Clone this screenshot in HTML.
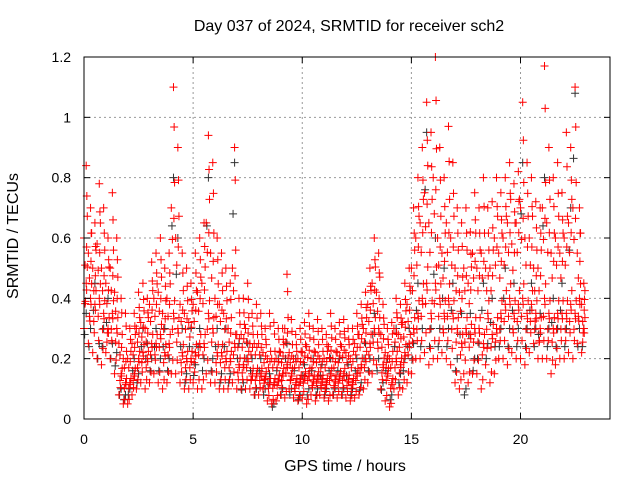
<!DOCTYPE html>
<html><head><meta charset="utf-8"><style>
body{margin:0;background:#fff;}
svg{display:block;font-family:"Liberation Sans",sans-serif;}
</style></head><body>
<svg id="chart" width="640" height="480" viewBox="0 0 640 480">
<rect width="640" height="480" fill="#fff"/>
<g id="grid"></g>
<g id="blackPts"></g>
<g id="redPts"></g>
<rect x="84" y="57" width="526" height="362" fill="none" stroke="#000" stroke-width="1"/>
<g id="ticks"></g>
<text x="349" y="31" font-size="16" text-anchor="middle">Day 037 of 2024, SRMTID for receiver sch2</text>
<text x="345" y="471" font-size="16" text-anchor="middle">GPS time / hours</text>
<text transform="translate(18,236) rotate(-90)" font-size="16" text-anchor="middle">SRMTID / TECUs</text>
</svg>
<script>
const xTicks=[0,5,10,15,20];
const yTicks=[0,0.2,0.4,0.6,0.8,1,1.2];
const yTickLabels=["0","0.2","0.4","0.6","0.8","1","1.2"];
const timeStep=0.2;
const redLow=[0.30,0.25,0.22,0.2,0.18,0.22,0.2,0.15,0.08,0.05,0.05,0.08,0.1,0.12,0.1,0.12,0.15,0.12,0.1,0.12,0.15,0.15,0.12,0.1,0.1,0.12,0.1,0.1,0.15,0.12,0.12,0.1,0.1,0.1,0.12,0.1,0.1,0.1,0.1,0.08,0.08,0.1,0.06,0.05,0.06,0.08,0.07,0.1,0.07,0.06,0.07,0.05,0.08,0.06,0.08,0.07,0.06,0.08,0.07,0.08,0.07,0.06,0.07,0.08,0.1,0.12,0.15,0.18,0.1,0.06,0.04,0.1,0.08,0.1,0.12,0.15,0.2,0.2,0.22,0.18,0.2,0.2,0.22,0.2,0.18,0.12,0.1,0.15,0.12,0.15,0.15,0.1,0.18,0.12,0.15,0.2,0.2,0.18,0.22,0.2,0.2,0.18,0.22,0.25,0.2,0.2,0.2,0.15,0.18,0.2,0.2,0.22,0.2,0.25,0.22];
const redHigh=[0.84,0.7,0.65,0.78,0.7,0.6,0.75,0.6,0.4,0.35,0.3,0.35,0.42,0.45,0.4,0.52,0.55,0.6,0.5,0.55,1.1,0.9,0.55,0.5,0.45,0.55,0.6,0.65,0.94,0.85,0.6,0.55,0.5,0.45,0.9,0.4,0.4,0.45,0.35,0.38,0.35,0.3,0.35,0.32,0.3,0.3,0.48,0.33,0.28,0.3,0.32,0.35,0.3,0.33,0.3,0.28,0.35,0.3,0.32,0.33,0.3,0.3,0.35,0.38,0.42,0.5,0.6,0.55,0.38,0.3,0.32,0.4,0.38,0.45,0.5,0.7,0.8,0.9,1.05,0.95,1.2,0.9,0.8,0.97,0.85,0.7,0.65,0.7,0.62,0.75,0.7,0.8,0.7,0.72,0.8,0.75,0.8,0.85,0.78,0.82,1.05,0.85,0.8,0.72,0.7,1.17,0.9,0.8,0.85,0.75,0.95,0.9,1.1,0.7,0.45];
const redMid1=[0.45,0.4,0.38,0.4,0.35,0.3,0.35,0.3,0.15,0.12,0.12,0.15,0.2,0.22,0.2,0.25,0.25,0.28,0.22,0.25,0.35,0.3,0.22,0.2,0.2,0.22,0.25,0.25,0.35,0.3,0.22,0.22,0.2,0.2,0.25,0.18,0.18,0.2,0.15,0.15,0.15,0.14,0.12,0.12,0.13,0.15,0.18,0.15,0.12,0.13,0.14,0.15,0.13,0.14,0.13,0.12,0.15,0.13,0.14,0.15,0.13,0.12,0.15,0.18,0.2,0.25,0.3,0.3,0.18,0.15,0.12,0.2,0.18,0.22,0.25,0.3,0.35,0.4,0.45,0.35,0.45,0.4,0.35,0.4,0.35,0.3,0.25,0.3,0.28,0.3,0.3,0.25,0.35,0.28,0.3,0.35,0.38,0.4,0.35,0.38,0.4,0.35,0.38,0.35,0.3,0.4,0.35,0.3,0.35,0.35,0.35,0.38,0.35,0.4,0.3];
const redMid2=[0.6,0.55,0.5,0.58,0.5,0.45,0.5,0.42,0.25,0.2,0.2,0.25,0.3,0.32,0.3,0.38,0.4,0.42,0.35,0.4,0.7,0.6,0.38,0.35,0.32,0.38,0.42,0.45,0.65,0.55,0.4,0.38,0.35,0.3,0.5,0.28,0.28,0.3,0.25,0.25,0.25,0.22,0.2,0.2,0.2,0.22,0.3,0.22,0.2,0.2,0.22,0.24,0.2,0.22,0.2,0.2,0.24,0.2,0.22,0.24,0.22,0.2,0.25,0.28,0.3,0.38,0.45,0.42,0.28,0.22,0.2,0.3,0.28,0.32,0.38,0.5,0.6,0.65,0.75,0.65,0.8,0.6,0.55,0.65,0.6,0.5,0.42,0.5,0.45,0.55,0.5,0.55,0.5,0.5,0.6,0.55,0.6,0.65,0.58,0.65,0.7,0.6,0.6,0.5,0.5,0.7,0.65,0.55,0.6,0.55,0.6,0.65,0.7,0.55,0.38];
const blackVals=[0.35,0.3,0.45,0.25,0.3,0.4,0.25,0.22,0.1,0.08,0.1,0.2,0.15,0.3,0.25,0.2,0.3,0.2,0.3,0.2,0.8,0.6,0.3,0.15,0.3,0.18,0.3,0.2,0.8,0.2,0.3,0.15,0.3,0.15,0.85,0.25,0.12,0.25,0.2,0.1,0.2,0.1,0.15,0.05,0.2,0.1,0.25,0.1,0.2,0.08,0.18,0.1,0.2,0.1,0.18,0.1,0.2,0.1,0.2,0.1,0.18,0.1,0.2,0.12,0.25,0.2,0.35,0.2,0.12,0.2,0.08,0.3,0.15,0.2,0.3,0.25,0.45,0.3,0.95,0.3,0.6,0.3,0.5,0.3,0.45,0.2,0.35,0.1,0.35,0.2,0.25,0.45,0.25,0.4,0.3,0.3,0.5,0.3,0.45,0.3,0.85,0.3,0.45,0.3,0.35,0.8,0.3,0.4,0.3,0.45,0.3,0.7,1.08,0.3,0.3];

const NS="http://www.w3.org/2000/svg";
const X0=84,X1=610,Y0=419,Y1=57,XMAX=24.1,YMAX=1.2;
function xs(t){return X0+t/XMAX*(X1-X0);}
function ys(v){return Y0-v/YMAX*(Y0-Y1);}
function mk(tag,attrs,parent){const e=document.createElementNS(NS,tag);for(const k in attrs)e.setAttribute(k,attrs[k]);parent.appendChild(e);return e;}
const grid=document.getElementById('grid'),ticks=document.getElementById('ticks');
xTicks.forEach(t=>{
  const x=xs(t);
  if(t>0){const g=mk('line',{x1:x,x2:x,y1:Y0,y2:Y1,stroke:'#999','stroke-dasharray':'2,3'},grid);
  
  }
  mk('line',{x1:x,x2:x,y1:Y0,y2:Y0-6,stroke:'#000'},ticks);
  mk('line',{x1:x,x2:x,y1:Y1,y2:Y1+6,stroke:'#000'},ticks);
  const l=mk('text',{x:x,y:Y0+25,'font-size':14,'text-anchor':'middle'},ticks);
  l.textContent=String(t);
  
  
});
yTicks.forEach((v,i)=>{
  const y=ys(v);
  if(v>0&&v<YMAX){const g=mk('line',{x1:X0,x2:X1,y1:y,y2:y,stroke:'#999','stroke-dasharray':'2,3'},grid);
  
  }
  mk('line',{x1:X0,x2:X0+6,y1:y,y2:y,stroke:'#000'},ticks);
  mk('line',{x1:X1,x2:X1-6,y1:y,y2:y,stroke:'#000'},ticks);
  const l=mk('text',{x:X0-13,y:y+5,'font-size':14,'text-anchor':'end'},ticks);
  l.textContent=yTickLabels[i];
  
  
});
function plus(parent,t,v,color){
  const x=xs(t),y=ys(v);
  const p=mk('path',{d:`M${x-4} ${y}h8M${x} ${y-4}v8`,stroke:color,'stroke-width':1,fill:'none'},parent);
  
  
}
const bg=document.getElementById('blackPts'),rg=document.getElementById('redPts');
blackVals.forEach((v,i)=>plus(bg,i*timeStep+0.1,v,'#333'));
blackVals.forEach((v,i)=>plus(bg,i*timeStep+0.03,v*0.8,'#333'));
[redLow,redMid1,redMid2,redHigh].forEach((arr,k)=>arr.forEach((v,i)=>plus(rg,i*timeStep+(k%2)*0.1,v,'#f00')));
[redMid1,redMid2].forEach(arr=>arr.forEach((v,i)=>{
  plus(rg,i*timeStep+0.05,v*0.85,'#f00');
  plus(rg,i*timeStep+0.15,v*1.12,'#f00');
  plus(rg,i*timeStep+0.12,v*0.95,'#f00');
}));
redLow.forEach((v,i)=>plus(rg,i*timeStep+0.07,v*1.3,'#f00'));
redHigh.forEach((v,i)=>plus(rg,i*timeStep+0.13,v*0.88,'#f00'));
</script>
</body></html>
